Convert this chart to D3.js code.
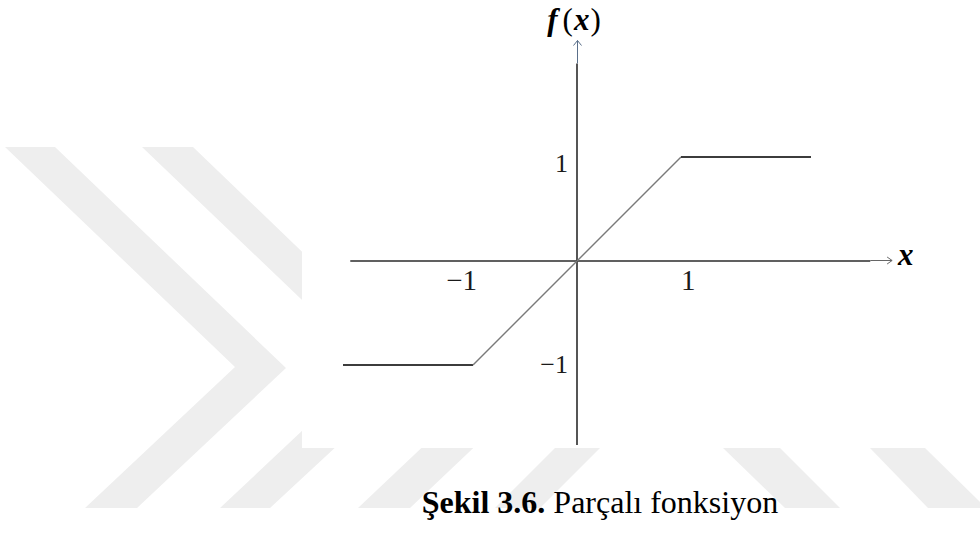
<!DOCTYPE html>
<html lang="tr">
<head>
<meta charset="utf-8">
<title>Parçalı fonksiyon</title>
<script src="https://cdn.jsdelivr.net/npm/d3@7/dist/d3.min.js"></script>
<style>
  html, body { margin: 0; padding: 0; background: #ffffff; }
  svg { display: block; }
</style>
</head>
<body>
<svg id="chart" width="980" height="534"></svg>
<script>
// Piecewise (saturating) linear function: f(x) = -1 for x <= -1, x for -1 < x < 1, 1 for x >= 1
const breakX = [-2.25, -1, 0, 1, 2.25];
const breakY = [-1, -1, 0, 1, 1];

// Axis extents (in function units) and tick labels
const xAxisExtent = [-2.18, 3.03];
const yAxisExtent = [-1.77, 2.12];
const xTickValues = [-1, 1];
const xTickLabels = ["\u22121", "1"];
const yTickValues = [1, -1];
const yTickLabels = ["1", "\u22121"];

const captionBold = "Şekil 3.6.";
const captionText = " Parçalı fonksiyon";

const svg = d3.select("#chart");
const serif = "'Liberation Serif', 'Times New Roman', serif";

// Background: light grey chevron bands, partly covered by the white figure panel
const bandColor = "#eeeeee";
const bands = [
  [[5,147],[55,147],[286,368],[137,508],[85,508],[235,367]],
  [[142,147],[193,147],[422,367],[270,508],[220,508],[371,366]],
  [[559,367],[410,508],[358,508],[508,366]],
  [[555,448],[600,448],[540,508],[495,508]],
  [[723,448],[780,448],[840,508],[785,508]],
  [[870,448],[925,448],[980,502],[980,508],[928,508]]
];
svg.append("g").selectAll("polygon")
  .data(bands)
  .join("polygon")
  .attr("points", d => d.map(p => p.join(",")).join(" "))
  .attr("fill", bandColor);

svg.append("rect")
  .attr("x", 302).attr("y", 0)
  .attr("width", 615).attr("height", 448)
  .attr("fill", "#ffffff");

// Scales
const x = d3.scaleLinear().domain([-1, 1]).range([473, 681]);
const y = d3.scaleLinear().domain([-1, 1]).range([365, 157]);

const axisColor = "#2b2b2b";
const g = svg.append("g");

// x axis: solid line, then a thin arrow
const xArrowStart = 2.82;
g.append("line")
  .attr("x1", x(xAxisExtent[0])).attr("x2", x(xArrowStart))
  .attr("y1", y(0)).attr("y2", y(0))
  .attr("stroke", axisColor).attr("stroke-width", 1.6);
g.append("line")
  .attr("x1", x(xArrowStart)).attr("x2", x(xAxisExtent[1]))
  .attr("y1", y(0) - 0.5).attr("y2", y(0) - 0.5)
  .attr("stroke", "#666").attr("stroke-width", 1);
g.append("path")
  .attr("d", `M${x(xAxisExtent[1]) - 5},${y(0) - 4} L${x(xAxisExtent[1])},${y(0) - 0.5} L${x(xAxisExtent[1]) - 5},${y(0) + 3}`)
  .attr("fill", "none").attr("stroke", "#666").attr("stroke-width", 1);

// y axis: solid line, then a thin arrow
const yArrowStart = 1.9;
g.append("line")
  .attr("x1", x(0)).attr("x2", x(0))
  .attr("y1", y(yAxisExtent[0])).attr("y2", y(yArrowStart))
  .attr("stroke", axisColor).attr("stroke-width", 1.6);
g.append("line")
  .attr("x1", x(0) + 0.5).attr("x2", x(0) + 0.5)
  .attr("y1", y(yArrowStart)).attr("y2", y(yAxisExtent[1]))
  .attr("stroke", "#5a6f8a").attr("stroke-width", 1);
g.append("path")
  .attr("d", `M${x(0) - 3.5},${y(yAxisExtent[1]) + 5} L${x(0) + 0.5},${y(yAxisExtent[1])} L${x(0) + 4.5},${y(yAxisExtent[1]) + 5}`)
  .attr("fill", "none").attr("stroke", "#5a6f8a").attr("stroke-width", 1);

// Function segments: flat parts darker and thicker, sloped part thinner
const segments = d3.pairs(d3.zip(breakX, breakY));
g.append("g").selectAll("line")
  .data(segments)
  .join("line")
  .attr("x1", d => x(d[0][0])).attr("y1", d => y(d[0][1]))
  .attr("x2", d => x(d[1][0])).attr("y2", d => y(d[1][1]))
  .attr("stroke", d => d[0][1] === d[1][1] ? "#3c3c3c" : "#7a7a7a")
  .attr("stroke-width", d => d[0][1] === d[1][1] ? 2 : 1.4)
  .attr("stroke-linecap", "butt");

// Tick labels on the x axis
g.append("g").selectAll("text")
  .data(xTickValues)
  .join("text")
  .attr("x", d => x(d) + (d < 0 ? 4 : 0))
  .attr("y", y(0) + 29)
  .attr("text-anchor", d => d < 0 ? "end" : "start")
  .attr("font-family", serif)
  .attr("font-size", 29)
  .attr("fill", "#1a1a1a")
  .text((d, i) => xTickLabels[i]);

// Tick labels on the y axis
g.append("g").selectAll("text")
  .data(yTickValues)
  .join("text")
  .attr("x", x(0) - 9)
  .attr("y", d => y(d) + (d > 0 ? 15 : 8))
  .attr("text-anchor", "end")
  .attr("font-family", serif)
  .attr("font-size", 26)
  .attr("fill", "#1a1a1a")
  .text((d, i) => yTickLabels[i]);

// Axis names
const fx = g.append("text")
  .attr("x", x(0) - 3).attr("y", 30)
  .attr("text-anchor", "middle")
  .attr("font-family", serif)
  .attr("font-size", 31)
  .attr("fill", "#000");
fx.append("tspan").attr("font-weight", "bold").attr("font-style", "italic").text("f");
fx.append("tspan").attr("dx", 5).text("(");
fx.append("tspan").attr("dx", 1).attr("font-weight", "bold").attr("font-style", "italic").text("x");
fx.append("tspan").attr("dx", 1).text(")");

g.append("text")
  .attr("x", x(xAxisExtent[1]) + 6).attr("y", y(0) + 4)
  .attr("font-family", serif)
  .attr("font-size", 31)
  .attr("font-weight", "bold").attr("font-style", "italic")
  .attr("fill", "#000")
  .text("x");

// Caption
const cap = svg.append("text")
  .attr("x", 600).attr("y", 513)
  .attr("text-anchor", "middle")
  .attr("font-family", serif)
  .attr("font-size", 32)
  .attr("fill", "#000");
cap.append("tspan").attr("font-weight", "bold").text(captionBold);
cap.append("tspan").text(captionText);
</script>
</body>
</html>
